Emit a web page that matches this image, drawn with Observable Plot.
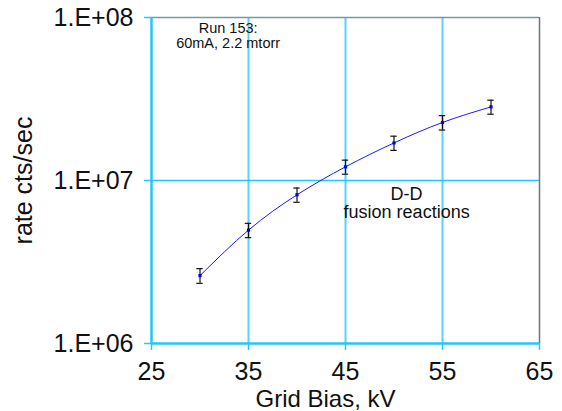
<!DOCTYPE html>
<html>
<head>
<meta charset="utf-8">
<script src="https://cdn.jsdelivr.net/npm/d3@7"></script>
<script src="https://cdn.jsdelivr.net/npm/@observablehq/plot@0.6"></script>
<style>
  html, body { margin: 0; padding: 0; background: #fff; }
  svg { font-family: "Liberation Sans", Arial, Helvetica, sans-serif; }
</style>
</head>
<body>
<div id="chart"></div>
<script>
const biasKV = [30, 35, 40, 45, 50, 55, 60];
const rateCps = [2.61e6, 4.96e6, 8.17e6, 1.213e7, 1.70e7, 2.27e7, 2.83e7];
const rateErr = [0.27e6, 0.50e6, 0.82e6, 1.2e6, 1.7e6, 2.3e6, 2.8e6];
const xTicks = [25, 35, 45, 55, 65];
const yTicks = [1e6, 1e7, 1e8];
const xGrid = [35, 45, 55];
const yGrid = [1e7];
const runNote = "Run 153:\n60mA, 2.2 mtorr";
const reactionNote = "D-D\nfusion reactions";
const xTitle = "Grid Bias, kV";
const yTitle = "rate cts/sec";

const data = biasKV.map((x, i) => ({
  x, y: rateCps[i], lo: rateCps[i] - rateErr[i], hi: rateCps[i] + rateErr[i]
}));

const cyan = "#22c8f5";
const capHalf = 0.33;

const chart = Plot.plot({
  width: 562,
  height: 411,
  marginLeft: 151,
  marginRight: 23,
  marginTop: 17,
  marginBottom: 68,
  style: { background: "#fff", overflow: "visible" },
  x: { domain: [25, 65] },
  y: { type: "log", domain: [1e6, 1e8] },
  marks: [
    Plot.ruleX(xGrid, { stroke: "#55d3fb", strokeWidth: 2 }),
    Plot.ruleY(yGrid, { stroke: cyan, strokeWidth: 1.5 }),
    Plot.ruleY([1e8], { stroke: "#6f9aa6", strokeWidth: 1.5 }),
    Plot.ruleX([65], { stroke: "#6e7676", strokeWidth: 1.5 }),
    Plot.ruleX([25], { stroke: cyan, strokeWidth: 2.5 }),
    Plot.ruleY([1e6], { stroke: cyan, strokeWidth: 2.5 }),
    Plot.axisY({
      ticks: yTicks,
      tickFormat: d => "1.E+" + String(Math.round(Math.log10(d))).padStart(2, "0"),
      tickSize: 7,
      tickPadding: 11,
      stroke: cyan,
      strokeWidth: 1.5,
      fill: "#111",
      fontSize: 25,
      label: null
    }),
    Plot.axisX({
      ticks: xTicks,
      tickFormat: d => String(d),
      tickSize: 7,
      tickPadding: 12,
      stroke: cyan,
      strokeWidth: 1.5,
      fill: "#111",
      fontSize: 25,
      label: null
    }),
    Plot.ruleX(data, { x: "x", y1: "lo", y2: "hi", stroke: "#111", strokeWidth: 1.2 }),
    Plot.ruleY(data, { y: "lo", x1: d => d.x - capHalf, x2: d => d.x + capHalf, stroke: "#111", strokeWidth: 1.2 }),
    Plot.ruleY(data, { y: "hi", x1: d => d.x - capHalf, x2: d => d.x + capHalf, stroke: "#111", strokeWidth: 1.2 }),
    Plot.line(data, { x: "x", y: "y", stroke: "#1a1aff", strokeWidth: 1, curve: "natural" }),
    Plot.dot(data, { x: "x", y: "y", symbol: "square", r: 1.8, fill: "#0000ee", stroke: "none" }),
    Plot.text([runNote], { x: 32.9, y: 7.76e7, text: d => d, fontSize: 14.5, lineHeight: 1.05, lineAnchor: "middle", textAnchor: "middle", fill: "#111" }),
    Plot.text([reactionNote], { x: 51.3, y: 7.29e6, text: d => d, fontSize: 18, lineHeight: 1.04, lineAnchor: "middle", textAnchor: "middle", fill: "#111" }),
    Plot.text([xTitle], { frameAnchor: "bottom", dx: -20, dy: 56, text: d => d, fontSize: 24, lineAnchor: "middle", textAnchor: "middle", fill: "#111" }),
    Plot.text([yTitle], { frameAnchor: "left", dx: -128, rotate: -90, text: d => d, fontSize: 25, lineAnchor: "middle", textAnchor: "middle", fill: "#111" })
  ]
});
document.getElementById("chart").appendChild(chart);
</script>
</body>
</html>
